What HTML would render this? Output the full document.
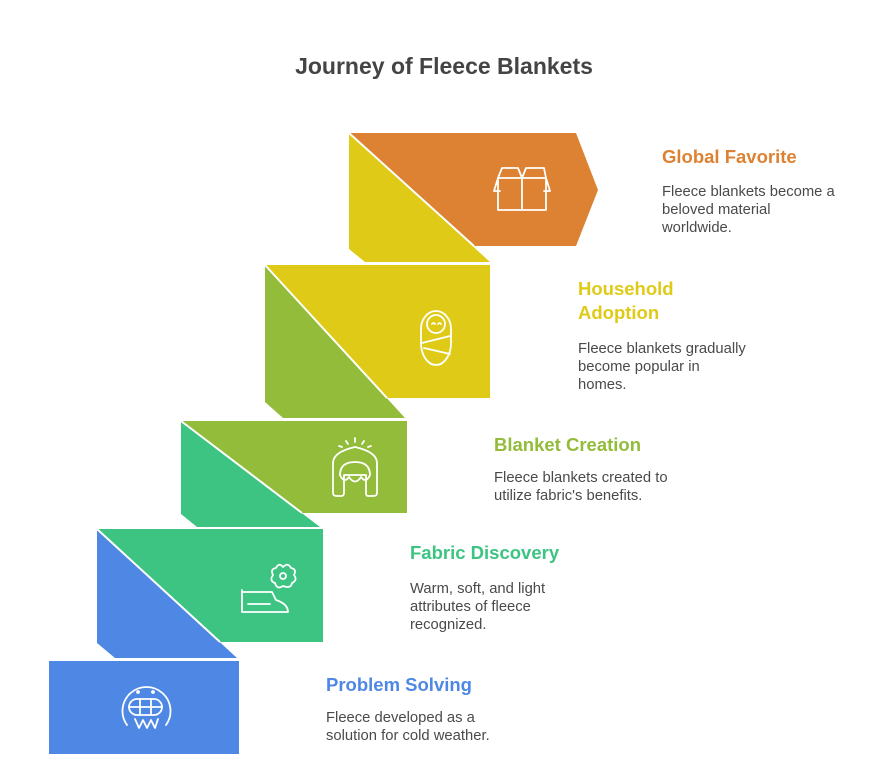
<!DOCTYPE html>
<html><head><meta charset="utf-8"><style>
body{margin:0;background:#fff;width:888px;height:777px;overflow:hidden;font-family:"Liberation Sans",Arial,sans-serif;}
</style></head><body>
<svg width="888" height="777" viewBox="0 0 888 777" xmlns="http://www.w3.org/2000/svg" font-family="Liberation Sans, Arial, sans-serif">
<text x="444" y="74" text-anchor="middle" font-size="23" font-weight="bold" fill="#444">Journey of Fleece Blankets</text>

<polygon points="349,133 490,262 365,262 349,249" fill="#DFCB17"/>
<polygon points="265,265 405,418 283,418 265,402" fill="#92BC3A"/>
<polygon points="181,421 320,527 197,527 181,514" fill="#3DC482"/>
<polygon points="97,529 237,658 115,658 97,643" fill="#4E88E4"/>

<polygon points="349,133 576,133 598,190 576,246 474,246" fill="#DD8232"/>
<line x1="349" y1="133" x2="474" y2="246" stroke="#fff" stroke-width="2"/>
<polygon points="265,265 490,265 490,398 386,398" fill="#DFCB17"/>
<line x1="265" y1="265" x2="387" y2="398" stroke="#fff" stroke-width="2"/>
<polygon points="181,421 407,421 407,513 302,513" fill="#92BC3A"/>
<line x1="181" y1="421" x2="302" y2="513" stroke="#fff" stroke-width="2"/>
<polygon points="97,529 323,529 323,642 220,642" fill="#3DC482"/>
<line x1="97" y1="529" x2="220" y2="642" stroke="#fff" stroke-width="2"/>
<rect x="49" y="661" width="190" height="93" fill="#4E88E4"/>

<g fill="none" stroke="#fff" stroke-width="1.8" stroke-linecap="round" stroke-linejoin="round">
<path d="M498,178 L546,178 L546,210 L498,210 Z M522,178 L522,210 M498,178 L494,191 L500,191 M546,178 L550,191 L544,191 M522,178 L526,168 L544,168 L546,178 M522,178 L518,168 L502,168 L498,178"/>
<path d="M436,311 a15,18 0 0 1 15,18 l0,14 a15,22 0 0 1 -30,0 l0,-14 a15,18 0 0 1 15,-18 Z"/>
<circle cx="436" cy="324" r="9"/>
<path d="M432,324 q1.5,-2 3,0 M438,324 q1.5,-2 3,0 M422,343 L450,336 M424,348 L450,354"/>
<path d="M333,493 L333,463 Q333,452 355,447 Q377,452 377,463 L377,493 Q377,496 373,496 L368,496 Q366,496 366,493 L366,475 L344,475 L344,493 Q344,496 341,496 L337,496 Q333,496 333,493 Z M340,475 Q340,462 355,462 Q370,462 370,475 Q366,484 361,477 Q355,486 349,477 Q344,484 340,475"/>
<path d="M355,438 L355,442 M346,441 L348,444 M364,441 L362,444 M339,446 L342,447 M371,446 L368,447"/>
<path d="M242,590 L242,612 L288,612 Q288,604 276,600 L272,592 L242,592 M248,604 L270,604"/>
<circle cx="283" cy="576" r="3"/>
<path d="M283,567 q5,-5 8,1 q6,1 3,7 q4,5 -2,8 q-1,6 -9,3 q-6,4 -8,-3 q-6,-2 -2,-8 q-3,-6 3,-7 q3,-6 7,-1 Z"/>
<path d="M127,725 A24,24 0 1 1 166,725"/>
<rect x="129" y="699" width="33" height="16" rx="8"/>
<path d="M140,699 L140,715 M151,699 L151,715 M129,707 L162,707 M135,719 L139,728 L143,720 L147,728 L151,720 L155,728 L158,719"/>
<circle cx="138" cy="692" r="1" fill="#fff"/><circle cx="153" cy="692" r="1" fill="#fff"/>
</g>

<g font-weight="bold" font-size="18.5">
<text x="662" y="163" fill="#DD8232">Global Favorite</text>
<text x="578" y="295" fill="#DFCB17">Household</text>
<text x="578" y="319" fill="#DFCB17">Adoption</text>
<text x="494" y="451" fill="#92BC3A">Blanket Creation</text>
<text x="410" y="559" fill="#3DC482">Fabric Discovery</text>
<text x="326" y="691" fill="#4E88E4">Problem Solving</text>
</g>
<g font-size="14.8" fill="#4a4a4a">
<text x="662" y="196">Fleece blankets become a</text>
<text x="662" y="214">beloved material</text>
<text x="662" y="232">worldwide.</text>
<text x="578" y="353">Fleece blankets gradually</text>
<text x="578" y="371">become popular in</text>
<text x="578" y="389">homes.</text>
<text x="494" y="482">Fleece blankets created to</text>
<text x="494" y="500">utilize fabric's benefits.</text>
<text x="410" y="593">Warm, soft, and light</text>
<text x="410" y="611">attributes of fleece</text>
<text x="410" y="629">recognized.</text>
<text x="326" y="722">Fleece developed as a</text>
<text x="326" y="740">solution for cold weather.</text>
</g>
</svg>
</body></html>
